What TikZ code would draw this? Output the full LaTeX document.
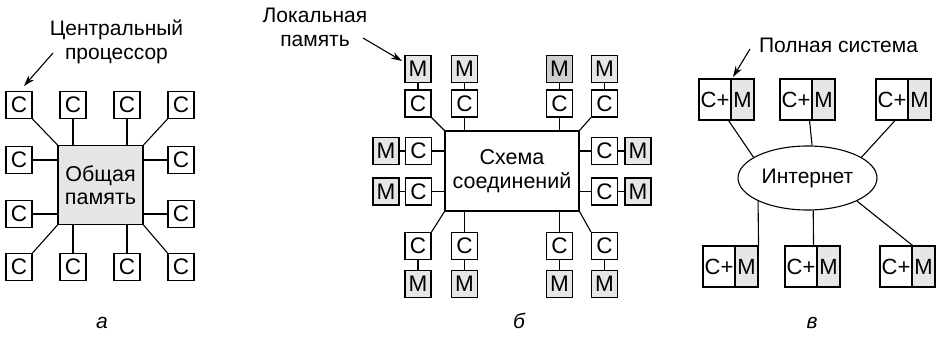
\documentclass[tikz,border=0pt]{standalone}
\usepackage{fontspec}
\setmainfont{Liberation Sans}
\usetikzlibrary{arrows.meta,shapes.geometric,calc}
\definecolor{lgray}{HTML}{E6E6E6}
\definecolor{dgray}{HTML}{CFCFCF}
\begin{document}
\begin{tikzpicture}[x=1pt,y=-1pt,
  every node/.style={font=\fontsize{21}{23}\selectfont},
  cbox/.style={draw,fill=white,line width=1.1pt,minimum width=26pt,minimum height=27pt,inner sep=0pt,font=\fontsize{22.5}{24}\selectfont},
  mbox/.style={cbox,fill=lgray},
  lpart/.style={draw,fill=white,line width=1.1pt,minimum width=32pt,minimum height=41pt,inner sep=0pt,font=\fontsize{22}{24}\selectfont},
  rpart/.style={lpart,fill=lgray,minimum width=23pt},
  conn/.style={line width=1.1pt},
  arr/.style={line width=1.1pt,-{Stealth[length=11pt,width=7pt]}},
  txt/.style={anchor=base,inner sep=0pt},
  lab/.style={font=\fontsize{21}{23}\selectfont\itshape,anchor=base,inner sep=0pt}]
\useasboundingbox (0,0) rectangle (937,339);

% ---------------- panel a ----------------
\node[draw,fill=lgray,line width=1.1pt,minimum width=85pt,minimum height=79pt,inner sep=0pt,align=center,font=\fontsize{21.5}{23}\selectfont] (mem) at (100.5,185) {Общая\\память};
\node[cbox] (at1) at (19,105) {C};
\node[cbox] (at2) at (73,105) {C};
\node[cbox] (at3) at (127,105) {C};
\node[cbox] (at4) at (181,105) {C};
\node[cbox] (al2) at (19,160) {C};
\node[cbox] (al3) at (19,214) {C};
\node[cbox] (ar2) at (181,160) {C};
\node[cbox] (ar3) at (181,214) {C};
\node[cbox] (ab1) at (19,267) {C};
\node[cbox] (ab2) at (73,267) {C};
\node[cbox] (ab3) at (127,267) {C};
\node[cbox] (ab4) at (181,267) {C};
\draw[conn] (at1.south east) -- (mem.north west);
\draw[conn] (at2.south) -- (at2.south |- mem.north);
\draw[conn] (at3.south) -- (at3.south |- mem.north);
\draw[conn] (at4.south west) -- (mem.north east);
\draw[conn] (al2.east) -- (al2.east -| mem.west);
\draw[conn] (al3.east) -- (al3.east -| mem.west);
\draw[conn] (ar2.west) -- (ar2.west -| mem.east);
\draw[conn] (ar3.west) -- (ar3.west -| mem.east);
\draw[conn] (ab1.north east) -- (mem.south west);
\draw[conn] (ab2.north) -- (ab2.north |- mem.south);
\draw[conn] (ab3.north) -- (ab3.north |- mem.south);
\draw[conn] (ab4.north west) -- (mem.south east);
\node[txt] (cpu1) at (116.5,36) {Центральный};
\node[txt] (cpu2) at (116.5,60) {процессор};
\coordinate (cpuA) at (53,53);
\coordinate (cpuT) at (24,86);
\draw[arr] (cpuA) -- (cpuT);
\node[lab] (la) at (102,328) {а};

% ---------------- panel b ----------------
\node[draw,fill=white,line width=1.1pt,minimum width=134pt,minimum height=80pt,inner sep=0pt,align=center,font=\fontsize{21.5}{24}\selectfont] (net) at (512,171) {Схема\\соединений};
\node[mbox] (bm1) at (418,69) {M};
\node[mbox] (bm2) at (464.5,69) {M};
\node[mbox,fill=dgray] (bm3) at (559.5,69) {M};
\node[mbox] (bm4) at (604.5,69) {M};
\node[cbox] (bc1) at (418,103.5) {C};
\node[cbox] (bc2) at (464.5,103.5) {C};
\node[cbox] (bc3) at (559.5,103.5) {C};
\node[cbox] (bc4) at (604.5,103.5) {C};
\node[mbox] (blm1) at (386,151) {M};
\node[cbox] (blc1) at (418.5,151) {C};
\node[mbox] (blm2) at (386,191.5) {M};
\node[cbox] (blc2) at (418.5,191.5) {C};
\node[cbox] (brc1) at (604.5,151) {C};
\node[mbox] (brm1) at (638,151) {M};
\node[cbox] (brc2) at (604.5,191.5) {C};
\node[mbox] (brm2) at (638,191.5) {M};
\node[cbox] (bbc1) at (418,246) {C};
\node[cbox] (bbc2) at (464.5,246) {C};
\node[cbox] (bbc3) at (559.5,246) {C};
\node[cbox] (bbc4) at (604.5,246) {C};
\node[mbox] (bbm1) at (418,284) {M};
\node[mbox] (bbm2) at (464.5,284) {M};
\node[mbox] (bbm3) at (559.5,284) {M};
\node[mbox] (bbm4) at (604.5,284) {M};
\foreach \i in {1,2,3,4}{
  \draw[conn] (bm\i.south) -- (bc\i.north);
  \draw[conn] (bbc\i.south) -- (bbm\i.north);
}
\draw[conn] (bc1.south east) -- (net.north west);
\draw[conn] (bc2.south) -- (bc2.south |- net.north);
\draw[conn] (bc3.south) -- (bc3.south |- net.north);
\draw[conn] (bc4.south west) -- (net.north east);
\draw[conn] (bbc1.north east) -- (net.south west);
\draw[conn] (bbc2.north) -- (bbc2.north |- net.south);
\draw[conn] (bbc3.north) -- (bbc3.north |- net.south);
\draw[conn] (bbc4.north west) -- (net.south east);
\draw[conn] (blm1.east) -- (blc1.west);
\draw[conn] (blm2.east) -- (blc2.west);
\draw[conn] (blc1.east) -- (blc1.east -| net.west);
\draw[conn] (blc2.east) -- (blc2.east -| net.west);
\draw[conn] (brc1.east) -- (brm1.west);
\draw[conn] (brc2.east) -- (brm2.west);
\draw[conn] (brc1.west) -- (brc1.west -| net.east);
\draw[conn] (brc2.west) -- (brc2.west -| net.east);
\node[txt] (lm1) at (315,23) {Локальная};
\node[txt] (lm2) at (315,47) {память};
\coordinate (lmA) at (363,38);
\coordinate (lmT) at (402,61);
\draw[arr] (lmA) -- (lmT);
\node[lab] (lb) at (519,328) {б};

% ---------------- panel c ----------------
\node[ellipse,draw,line width=1.1pt,minimum width=139pt,minimum height=64pt,inner sep=0pt] (inet) at (807.5,178) {Интернет};
\node[lpart] (c1l) at (715,99.5) {C+};
\node[rpart] (c1r) at (742.5,99.5) {M};
\node[lpart] (c2l) at (796,99.5) {C+};
\node[rpart] (c2r) at (823.5,99.5) {M};
\node[lpart] (c3l) at (892,99.5) {C+};
\node[rpart] (c3r) at (919.5,99.5) {M};
\node[lpart] (c4l) at (719,266.5) {C+};
\node[rpart] (c4r) at (746.5,266.5) {M};
\node[lpart] (c5l) at (801,266.5) {C+};
\node[rpart] (c5r) at (828.5,266.5) {M};
\node[lpart] (c6l) at (896,266.5) {C+};
\node[rpart] (c6r) at (923.5,266.5) {M};
\draw[conn] ($(c1l.south east)+(-3,0)$) -- (inet.159);
\draw[conn] ($(c2l.south east)+(-3,0)$) -- (inet.82);
\draw[conn] ($(c3l.south)+(3,0)$) -- (inet.21);
\draw[conn] (c4r.north east) -- (inet.205);
\draw[conn] ($(c5l.north east)+(-4,0)$) -- (inet.280);
\draw[conn] (c6l.north east) -- (inet.335);
\node[txt] (full) at (838.5,53) {Полная система};
\coordinate (fA) at (750,49);
\coordinate (fT) at (733,77);
\draw[arr] (fA) -- (fT);
\node[lab] (lc) at (812,328) {в};
\end{tikzpicture}
\end{document}
